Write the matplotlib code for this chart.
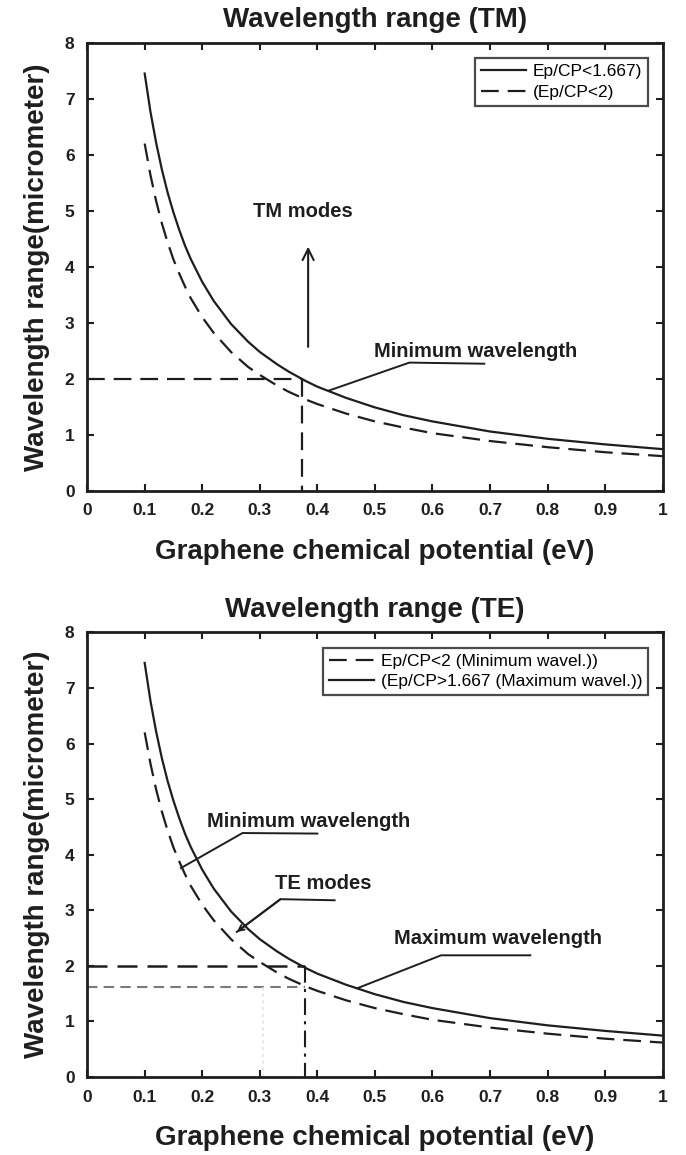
import matplotlib
matplotlib.use("Agg")
import matplotlib.pyplot as plt

plt.rcParams['font.family'] = ['Liberation Sans', 'DejaVu Sans']

# ========== data ==========
mu = [0.10, 0.11, 0.12, 0.13, 0.14, 0.15, 0.16, 0.17, 0.18, 0.20, 0.22, 0.25,
      0.28, 0.30, 0.33, 0.35, 0.38, 0.40, 0.45, 0.50, 0.55, 0.60, 0.70, 0.80,
      0.90, 1.00]
lam_167 = [7.45, 6.77, 6.21, 5.73, 5.32, 4.97, 4.66, 4.38, 4.14, 3.73, 3.39,
           2.98, 2.66, 2.48, 2.26, 2.13, 1.96, 1.86, 1.66, 1.49, 1.35, 1.24,
           1.06, 0.93, 0.83, 0.745]
lam_2 = [6.20, 5.64, 5.17, 4.77, 4.43, 4.13, 3.88, 3.65, 3.44, 3.10, 2.82,
         2.48, 2.21, 2.07, 1.88, 1.77, 1.63, 1.55, 1.38, 1.24, 1.13, 1.03,
         0.89, 0.78, 0.69, 0.62]
xticks = [0, 0.1, 0.2, 0.3, 0.4, 0.5, 0.6, 0.7, 0.8, 0.9, 1]
xticklabels = ['0', '0.1', '0.2', '0.3', '0.4', '0.5', '0.6', '0.7', '0.8', '0.9', '1']
yticks = [0, 1, 2, 3, 4, 5, 6, 7, 8]

tm_cut_x = 0.373      # where solid TM curve crosses 2 um
te_cut_x = 0.378
te_low_y = 1.62
# ================================================

INK = '#1e1e1e'
DASH = (0, (8, 4))

fig = plt.figure(figsize=(6.86, 11.55), dpi=100)
ax1 = fig.add_axes([0.127, 0.575, 0.839, 0.388])
ax2 = fig.add_axes([0.127, 0.0675, 0.839, 0.385])


def style_axes(ax, title):
    ax.set_xlim(0, 1)
    ax.set_ylim(0, 8)
    ax.set_xticks(xticks)
    ax.set_xticklabels(xticklabels)
    ax.set_yticks(yticks)
    ax.tick_params(direction='in', top=True, right=True, length=5, width=1.5,
                   labelsize=12.5, pad=9, colors=INK)
    for lab in ax.get_xticklabels() + ax.get_yticklabels():
        lab.set_fontweight('bold')
    for s in ax.spines.values():
        s.set_linewidth(2)
        s.set_color(INK)
    ax.set_title(title, fontsize=20, fontweight='bold', pad=11, color=INK)
    ax.set_xlabel('Graphene chemical potential (eV)', fontsize=20,
                  fontweight='bold', labelpad=15, color=INK)
    ax.set_ylabel('Wavelength range(micrometer)', fontsize=20,
                  fontweight='bold', labelpad=11, color=INK)


def callout(ax, text, tx, ty, pts, arrow=False):
    xs = [p[0] for p in pts]
    ys = [p[1] for p in pts]
    ax.plot(xs, ys, color=INK, lw=1.4)
    if arrow:
        ax.annotate('', xy=pts[0], xytext=pts[1],
                    arrowprops=dict(arrowstyle='->', color=INK, lw=1.4,
                                    shrinkA=0, shrinkB=0, mutation_scale=10))
    ax.text(tx, ty, text, fontsize=14.5, fontweight='bold', ha='center',
            va='center', color=INK)


def add_legend(ax):
    leg = ax.legend(loc='upper right', frameon=True, fancybox=False,
                    edgecolor=INK, handlelength=2.6, borderpad=0.35,
                    labelspacing=0.3, handletextpad=0.4,
                    bbox_to_anchor=(0.99, 0.985), prop={'size': 12.5})
    leg.get_frame().set_linewidth(1.6)


# ---- TM ----
ax1.plot(mu, lam_167, color=INK, lw=1.6, label='Ep/CP<1.667)')
ax1.plot(mu, lam_2, color=INK, lw=1.6, linestyle=DASH, label='(Ep/CP<2)')
ax1.plot([0, tm_cut_x], [2, 2], color=INK, lw=1.6, linestyle=DASH)
ax1.plot([tm_cut_x, tm_cut_x], [2, 0], color=INK, lw=1.6, linestyle=DASH)
ax1.annotate('', xy=(0.384, 4.36), xytext=(0.384, 2.57),
             arrowprops=dict(arrowstyle='->', color=INK, lw=1.5,
                             mutation_scale=20, shrinkA=0, shrinkB=0))
ax1.text(0.375, 4.98, 'TM modes', fontsize=14.5, fontweight='bold',
         ha='center', va='center', color=INK)
callout(ax1, 'Minimum wavelength', 0.675, 2.48,
        [(0.42, 1.79), (0.56, 2.29), (0.69, 2.27)])
add_legend(ax1)
style_axes(ax1, 'Wavelength range (TM)')

# ---- TE ----
ax2.plot(mu, lam_2, color=INK, lw=1.6, linestyle=DASH,
         label='Ep/CP<2 (Minimum wavel.))')
ax2.plot(mu, lam_167, color=INK, lw=1.6,
         label='(Ep/CP>1.667 (Maximum wavel.))')
ax2.plot([0, te_cut_x], [2, 2], color=INK, lw=1.8, linestyle=DASH)
ax2.plot([0, te_cut_x], [te_low_y, te_low_y], color='#7a7a7a', lw=1.5,
         linestyle=(0, (5, 3)))
ax2.plot([te_cut_x, te_cut_x], [2, 0], color=INK, lw=1.5,
         linestyle=(0, (8, 3, 1.5, 3)))
ax2.plot([0.305, 0.305], [te_low_y, 0], color='#e4e4e4', lw=1.2,
         linestyle=(0, (2, 2)))
callout(ax2, 'Minimum wavelength', 0.385, 4.6,
        [(0.163, 3.76), (0.27, 4.39), (0.40, 4.38)])
callout(ax2, 'TE modes', 0.41, 3.49,
        [(0.26, 2.61), (0.336, 3.2), (0.43, 3.18)], arrow=True)
callout(ax2, 'Maximum wavelength', 0.714, 2.5,
        [(0.47, 1.6), (0.615, 2.19), (0.77, 2.19)])
add_legend(ax2)
style_axes(ax2, 'Wavelength range (TE)')

fig.savefig('out.png', dpi=100)
